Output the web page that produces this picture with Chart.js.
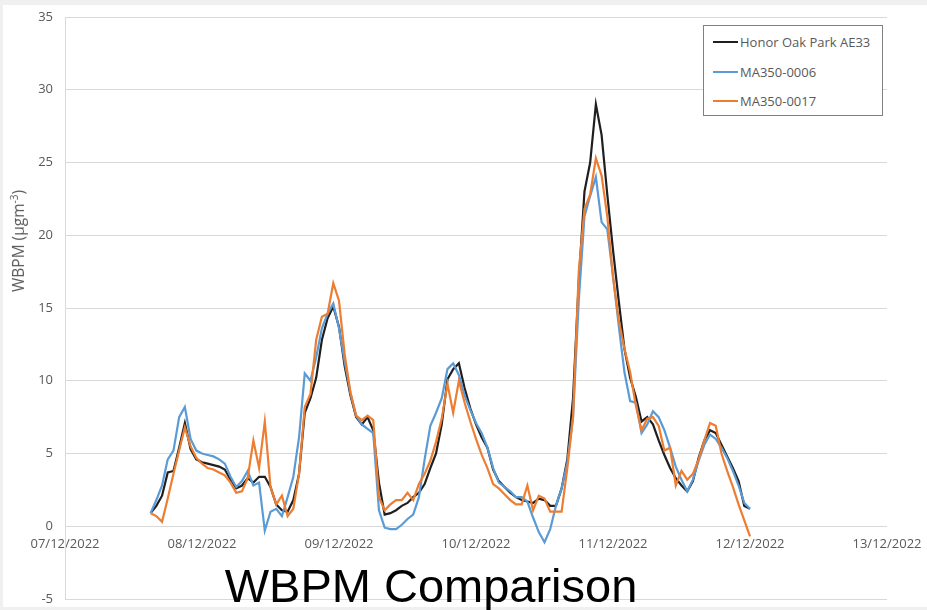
<!DOCTYPE html>
<html>
<head>
<meta charset="utf-8">
<title>WBPM Comparison</title>
<script src="https://cdn.jsdelivr.net/npm/chart.js@4.4.0/dist/chart.umd.min.js"></script>
<style>
    html, body { margin: 0; padding: 0; }
    body {
        width: 927px; height: 610px; position: relative; overflow: hidden;
        background: #f0f0f0; font-family: 'Open Sans', sans-serif;
    }
    #chartBox { position: absolute; left: 3px; top: 5px; width: 924px; height: 602px; background: #fff; }
    #yTitle {
        position: absolute; left: 18px; top: 241px; white-space: nowrap;
        transform: translate(-50%, -50%) rotate(-90deg);
        font-size: 15.5px; color: #595959;
    }
    #yTitle sup { font-size: 10px; }
    #legend {
        position: absolute; left: 703px; top: 25px; width: 178px; height: 89px;
        border: 1px solid #808080; background: #fff;
    }
    .legend-item {
        position: absolute; left: 9px; height: 20px; display: flex; align-items: center;
        font-size: 13px; color: #595959; white-space: nowrap;
    }
    .legend-swatch { width: 25px; height: 2px; margin-right: 2px; }
    #title {
        position: absolute; left: 0; top: 562px; width: 862px; text-align: center;
        font-family: 'Liberation Sans', Arial, sans-serif; font-size: 47px; line-height: 47px; color: #000;
    }
</style>
</head>
<body>
<div id="chartBox"><canvas id="wbpmChart"></canvas></div>
<div id="yTitle">WBPM (µgm<sup>-3</sup>)</div>
<div id="legend"></div>
<div id="title">WBPM Comparison</div>

<script>
// x axis: hours since 07/12/2022 00:00, one label per day
const dateLabels = ['07/12/2022', '08/12/2022', '09/12/2022', '10/12/2022', '11/12/2022', '12/12/2022', '13/12/2022'];
const firstHour = 15; // first reading, 07/12/2022 15:00, hourly after that

const seriesNames = ['Honor Oak Park AE33', 'MA350-0006', 'MA350-0017'];
const seriesColors = ['#1f1f1f', '#5b9bd5', '#ed7d31'];

// hourly WBPM values (ugm-3)
const honorOakPark = [
    0.9, 1.4, 2.1, 3.7, 3.8, 5.4, 7.1, 5.3, 4.6, 4.4,
    4.3, 4.2, 4.1, 3.9, 3.2, 2.6, 2.8, 3.3, 3.0, 3.4,
    3.4, 2.7, 1.5, 1.1, 1.0, 1.8, 3.6, 7.8, 8.8, 10.2,
    12.8, 14.3, 15.1, 13.7, 11.0, 9.0, 7.5, 7.0, 7.5, 6.6,
    3.0, 0.8, 0.9, 1.1, 1.4, 1.6, 2.0, 2.3, 2.9, 4.0,
    5.0, 7.0, 10.1, 10.8, 11.2, 9.5, 8.1, 7.0, 6.1, 5.4,
    3.9, 3.1, 2.7, 2.3, 2.0, 1.8, 1.7, 1.6, 1.9, 1.8,
    1.4, 1.4, 2.6, 4.6, 8.8, 16.8, 23.0, 25.0, 29.0, 26.9,
    22.8, 19.0, 15.5, 12.2, 10.2, 8.9, 7.2, 7.5, 7.0, 5.9,
    4.9, 4.0, 3.3, 2.8, 2.4, 3.1, 4.7, 5.9, 6.6, 6.4,
    5.6, 4.8, 4.0, 3.1, 1.4, 1.2
];

const ma350_0006 = [
    0.9, 1.8, 2.8, 4.6, 5.2, 7.5, 8.2, 6.0, 5.2, 5.0,
    4.9, 4.8, 4.6, 4.3, 3.4, 2.7, 3.1, 3.8, 2.8, 3.0,
    -0.3, 1.0, 1.2, 0.7, 2.0, 3.4, 6.1, 10.5, 10.0, 11.6,
    13.6, 14.6, 15.3, 13.6, 11.3, 9.2, 7.6, 7.0, 6.7, 6.4,
    1.1, -0.1, -0.2, -0.2, 0.1, 0.5, 0.8, 2.0, 4.6, 6.9,
    7.8, 8.8, 10.8, 11.2, 10.4, 9.0, 8.0, 7.1, 6.4, 5.4,
    4.0, 3.0, 2.7, 2.4, 2.0, 2.0, 1.7, 0.6, -0.4, -1.1,
    -0.2, 1.4, 2.6, 4.4, 7.5, 15.5, 21.3, 22.7, 24.0, 20.9,
    20.4, 17.2, 13.8, 10.6, 8.6, 8.5, 6.4, 7.0, 7.9, 7.5,
    6.6, 5.4, 4.1, 3.2, 2.4, 3.2, 4.5, 5.6, 6.3, 6.0,
    5.4, 4.7, 3.8, 2.8, 1.6, 1.2
];

const ma350_0017 = [
    0.9, 0.7, 0.3, 1.9, 3.6, 5.2, 6.8, 5.5, 4.7, 4.3,
    4.0, 3.9, 3.7, 3.5, 3.0, 2.3, 2.4, 3.3, 5.9, 4.0,
    7.2, 2.7, 1.5, 2.1, 0.7, 1.2, 3.6, 8.2, 9.1, 12.8,
    14.4, 14.6, 16.7, 15.5, 11.8, 9.2, 7.6, 7.3, 7.6, 7.3,
    2.0, 1.1, 1.5, 1.8, 1.8, 2.3, 1.8, 2.9, 3.6, 4.5,
    5.8, 7.4, 9.8, 7.8, 10.0, 8.5, 7.2, 6.0, 4.9, 4.0,
    2.9, 2.6, 2.2, 1.8, 1.5, 1.5, 2.8, 1.1, 2.1, 1.9,
    1.0, 1.0, 1.0, 4.0, 7.5, 17.5, 21.8, 22.8, 25.3, 24.1,
    21.3, 17.1, 14.2, 12.2, 10.6, 8.3, 6.6, 7.4, 7.5, 6.9,
    5.2, 5.4, 2.8, 3.8, 3.2, 3.6, 4.6, 5.9, 7.1, 6.9,
    5.0, 3.8, 2.7, 1.5, 0.4, -0.7
];

function toPoints(values) {
    return values.map((v, i) => ({ x: firstHour + i, y: v }));
}

const tickFont = { family: "'Open Sans', sans-serif", size: 13 };

const allSeries = [honorOakPark, ma350_0006, ma350_0017];
const datasets = allSeries.map((values, i) => ({
    label: seriesNames[i],
    data: toPoints(values),
    borderColor: seriesColors[i],
    backgroundColor: seriesColors[i],
    borderWidth: 2.2,
    pointRadius: 0,
    tension: 0,
    fill: false,
    order: allSeries.length - i // orange drawn on top, like the original
}));

const ctx = document.getElementById('wbpmChart').getContext('2d');
const wbpmChart = new Chart(ctx, {
    type: 'line',
    data: { datasets: datasets },
    options: {
        responsive: true,
        maintainAspectRatio: false,
        animation: false,
        layout: { padding: { top: 12, right: 40, bottom: 8, left: 0 } },
        plugins: {
            legend: { display: false },
            tooltip: { enabled: false }
        },
        scales: {
            x: {
                type: 'linear',
                position: { y: 0 },
                min: 0,
                max: 144,
                // labels may hang past the plot edges, like the original
                afterFit: scale => { scale.paddingLeft = 0; scale.paddingRight = 0; },
                grid: { display: false, drawTicks: false },
                border: { display: false },
                ticks: {
                    stepSize: 24,
                    autoSkip: false,
                    maxRotation: 0,
                    padding: 10,
                    color: '#595959',
                    font: tickFont,
                    callback: value => dateLabels[value / 24]
                }
            },
            y: {
                min: -5,
                max: 35,
                afterFit: scale => {
                    scale.width = 62;
                    scale.paddingTop = 0;
                    scale.paddingBottom = 0;
                },
                grid: { color: '#d9d9d9', drawTicks: false },
                border: { display: true, color: '#d9d9d9' },
                ticks: { stepSize: 5, padding: 12, color: '#595959', font: tickFont }
            }
        }
    }
});

// Legend box drawn over the plot, top right, from the chart's own datasets
const legendBox = document.getElementById('legend');
const rowTops = [6, 36, 65];
wbpmChart.data.datasets.forEach((ds, i) => {
    const item = document.createElement('div');
    item.classList.add('legend-item');
    item.style.top = rowTops[i] + 'px';
    item.innerHTML = `<span class="legend-swatch" style="background:${ds.borderColor}"></span>${ds.label}`;
    legendBox.appendChild(item);
});
</script>
</body>
</html>
